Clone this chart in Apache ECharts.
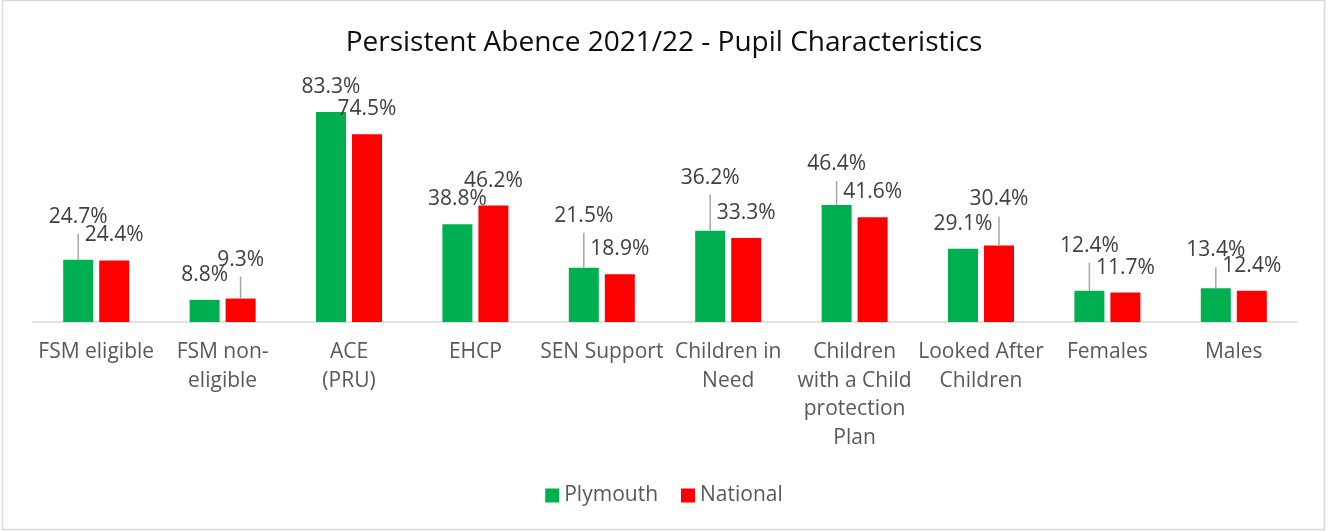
<!DOCTYPE html>
<html>
<head>
<meta charset="utf-8">
<title>Persistent Abence 2021/22 - Pupil Characteristics</title>
<script src="https://cdn.jsdelivr.net/npm/echarts@6/dist/echarts.min.js"></script>
<style>
  html, body { margin: 0; padding: 0; background: #ffffff; }
  #chart { width: 1328px; height: 531px; }
</style>
</head>
<body>
<div id="chart"></div>
<script>
// Pupil groups along the x axis (line breaks as they wrap under each group)
const categories = [
  'FSM eligible',
  'FSM non-\neligible',
  'ACE\n(PRU)',
  'EHCP',
  'SEN Support',
  'Children in\nNeed',
  'Children\nwith a Child\nprotection\nPlan',
  'Looked After\nChildren',
  'Females',
  'Males'
];

// Persistent absence rates, percent
const plymouth = [24.7, 8.8, 83.3, 38.8, 21.5, 36.2, 46.4, 29.1, 12.4, 13.4];
const national = [24.4, 9.3, 74.5, 46.2, 18.9, 33.3, 41.6, 30.4, 11.7, 12.4];

// How far (px) each value label sits above its bar; raised labels get a leader line
const plymouthLabelRise = [43, 24, 24, 23, 52, 53, 41, 25, 45, 38];
const nationalLabelRise = [25, 39, 25, 25, 24, 25, 24, 46, 25, 24];

const LABEL_LINE_H = 24;
const LEADER_GAP = 5;

function makeLabel(riseArr) {
  return {
    show: true,
    position: 'top',
    distance: 0,
    fontFamily: 'Open Sans',
    fontSize: 21,
    color: '#404040',
    align: 'center',
    formatter: function (p) {
      const txt = p.value.toFixed(1) + '%';
      const rise = riseArr[p.dataIndex];
      if (rise > 30) {
        return '{v|' + txt + '}\n{gap|}\n{ln' + p.dataIndex + '|}';
      }
      return '{v|' + txt + '}\n{pad|}';
    },
    rich: (function () {
      const r = {
        v: { fontFamily: 'Open Sans', fontSize: 21, color: '#404040', lineHeight: LABEL_LINE_H, height: LABEL_LINE_H, align: 'center' },
        gap: { height: LEADER_GAP, lineHeight: LEADER_GAP, width: 1 },
        pad: { height: 13, lineHeight: 13, width: 1 }
      };
      riseArr.forEach(function (rise, i) {
        const len = Math.max(rise - LABEL_LINE_H / 2 - LEADER_GAP, 0);
        r['ln' + i] = { width: 1.5, height: len, lineHeight: len, backgroundColor: '#a6a6a6', align: 'center' };
      });
      return r;
    })()
  };
}

const chart = echarts.init(document.getElementById('chart'), null, { renderer: 'canvas' });

chart.setOption({
  backgroundColor: '#ffffff',
  animation: false,
  title: {
    text: 'Persistent Abence 2021/22 - Pupil Characteristics',
    left: 'center',
    top: 24,
    textStyle: { fontFamily: 'Open Sans', fontSize: 28, fontWeight: 'normal', color: '#0d0d0d' }
  },
  legend: {
    data: ['Plymouth', 'National'],
    top: 480,
    left: 'center',
    itemWidth: 14,
    itemHeight: 14,
    itemGap: 23,
    icon: 'rect',
    textStyle: { fontFamily: 'Open Sans', fontSize: 21, color: '#595959' }
  },
  grid: { left: 33, right: 31, top: 70, bottom: 209, containLabel: false },
  xAxis: {
    type: 'category',
    data: categories,
    axisLine: { show: true, lineStyle: { color: '#d9d9d9', width: 1.5 } },
    axisTick: { show: false },
    axisLabel: {
      interval: 0,
      margin: 16,
      fontFamily: 'Open Sans',
      fontSize: 21,
      lineHeight: 28.5,
      color: '#595959',
      align: 'center',
      verticalAlign: 'top'
    }
  },
  yAxis: {
    type: 'value',
    min: 0,
    max: 100,
    show: false,
    splitLine: { show: false }
  },
  series: [
    {
      name: 'Plymouth',
      type: 'bar',
      data: plymouth,
      barWidth: 30,
      barGap: '20%',
      itemStyle: { color: '#00b050' },
      label: makeLabel(plymouthLabelRise),
      z: 2
    },
    {
      name: 'National',
      type: 'bar',
      data: national,
      barWidth: 30,
      barGap: '20%',
      itemStyle: { color: '#ff0000' },
      label: makeLabel(nationalLabelRise),
      z: 2
    }
  ],
  graphic: [
    {
      type: 'rect',
      shape: { x: 2.5, y: 0.5, width: 1322, height: 529 },
      style: { fill: 'none', stroke: '#d9d9d9', lineWidth: 1.5 },
      silent: true
    }
  ]
});
</script>
</body>
</html>
